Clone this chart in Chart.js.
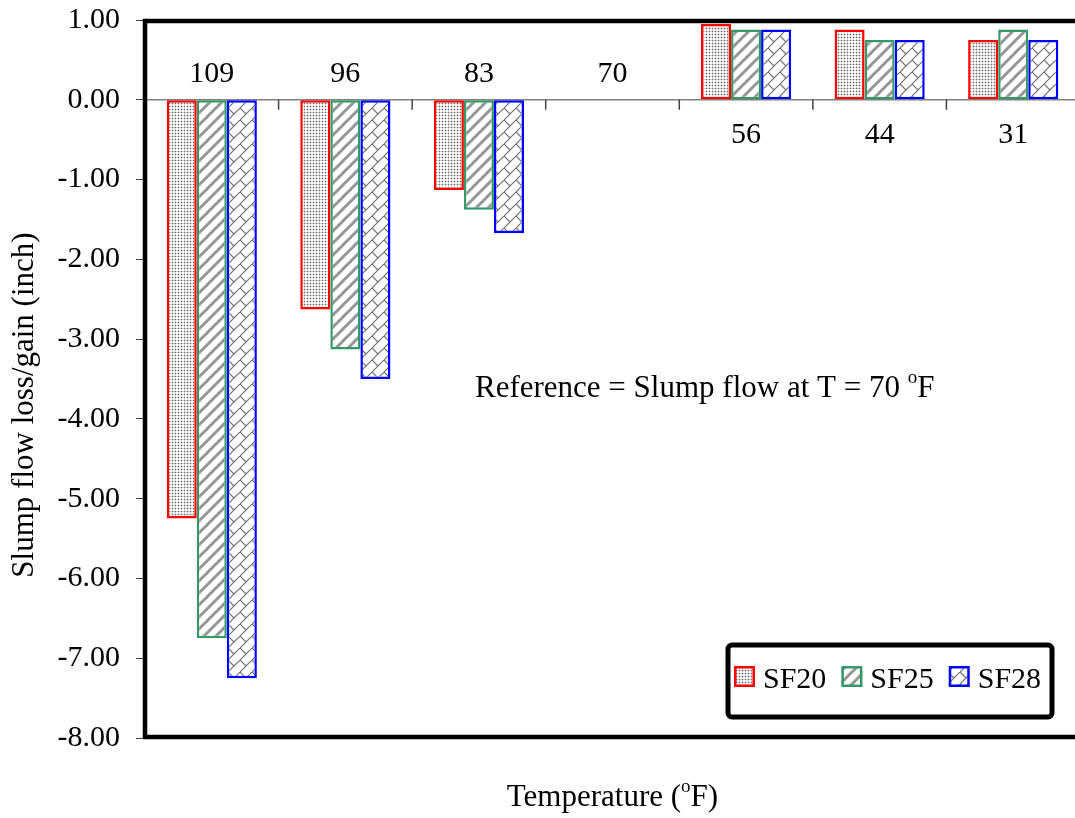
<!DOCTYPE html>
<html>
<head>
<meta charset="utf-8">
<script src="https://cdn.jsdelivr.net/npm/chart.js@4.4.0/dist/chart.umd.min.js"></script>
<style>
  html, body { margin: 0; padding: 0; background: #fff; overflow: hidden; }
  #wrap { width: 1080px; height: 818px; position: relative; }
</style>
</head>
<body>
<div id="wrap"><canvas id="slump"></canvas></div>
<script>
// temperatures (deg F) and slump flow change vs. the 70 F mix
const temps = ['109', '96', '83', '70', '56', '44', '31'];
const sf20 = [-5.25, -2.63, -1.13, 0, 0.95, 0.88, 0.75];
const sf25 = [-6.75, -3.13, -1.38, 0, 0.88, 0.75, 0.88];
const sf28 = [-7.25, -3.50, -1.67, 0, 0.88, 0.75, 0.75];
const yMin = -8, yMax = 1, yStep = 1;

const yTitle = 'Slump flow loss/gain (inch)';
const xTitle = [['Temperature (', false], ['o', true], ['F)', false]];
const note = [['Reference = Slump flow at T = 70 ', false], ['o', true], ['F', false]];

const serif = "'Liberation Serif', 'Times New Roman', serif";
const canvas = document.getElementById('slump');

// small repeating fills for the bars
function tile(size, draw) {
  const c = document.createElement('canvas');
  c.width = c.height = size;
  const g = c.getContext('2d');
  g.fillStyle = '#fff';
  g.fillRect(0, 0, size, size);
  draw(g, size);
  return canvas.getContext('2d').createPattern(c, 'repeat');
}

const dots = tile(3, g => {
  g.fillStyle = '#d2d2d2';
  g.fillRect(0, 1, 3, 1);
  g.fillRect(1, 0, 1, 3);
  g.fillStyle = '#666';
  g.fillRect(1, 1, 1, 1);
});

const stripes = tile(12, (g, s) => {
  g.strokeStyle = '#969696';
  g.lineWidth = 3;
  g.beginPath();
  g.moveTo(-2, s + 2); g.lineTo(s + 2, -2);
  g.moveTo(-2, 2); g.lineTo(2, -2);
  g.moveTo(s - 2, s + 2); g.lineTo(s + 2, s - 2);
  g.stroke();
});

const bricks = tile(12, (g, s) => {
  g.strokeStyle = '#707070';
  g.lineWidth = 1.2;
  g.beginPath();
  g.moveTo(-1, s + 1); g.lineTo(s + 1, -1);
  g.moveTo(-1, -1); g.lineTo(s / 2, s / 2);
  g.stroke();
});

// text runs with a raised small "o" for the degree sign
function runWidth(ctx, parts, size) {
  let w = 0;
  parts.forEach(([t, sup]) => {
    ctx.font = (sup ? Math.round(size * 0.62) : size) + 'px ' + serif;
    w += ctx.measureText(t).width;
  });
  return w;
}

function drawRun(ctx, parts, x, y, size) {
  ctx.textAlign = 'left';
  ctx.textBaseline = 'alphabetic';
  parts.forEach(([t, sup]) => {
    ctx.font = (sup ? Math.round(size * 0.62) : size) + 'px ' + serif;
    ctx.fillText(t, x, sup ? y - 14 : y);
    x += ctx.measureText(t).width;
  });
}

const decor = {
  id: 'decor',
  beforeDatasetsDraw(chart) {
    const { ctx, chartArea: a, scales: { x, y } } = chart;
    const y0 = y.getPixelForValue(0);
    ctx.save();
    ctx.strokeStyle = '#808080';
    ctx.lineWidth = 1.5;
    ctx.beginPath(); ctx.moveTo(a.left, y0); ctx.lineTo(a.right, y0); ctx.stroke();
    ctx.strokeStyle = '#404040';
    for (let i = 0; i < temps.length - 1; i++) {
      const bx = (x.getPixelForValue(i) + x.getPixelForValue(i + 1)) / 2;
      ctx.beginPath(); ctx.moveTo(bx, y0); ctx.lineTo(bx, y0 + 10); ctx.stroke();
    }
    ctx.restore();
  },
  afterDatasetsDraw(chart) {
    const { ctx, chartArea: a, scales: { x, y } } = chart;
    const y0 = y.getPixelForValue(0);
    ctx.save();

    // heavy plot frame (left, top, bottom)
    ctx.strokeStyle = '#000';
    ctx.lineWidth = 4.5;
    ctx.lineCap = 'square';
    ctx.beginPath();
    ctx.moveTo(a.right + 5, a.top + 1);
    ctx.lineTo(a.left, a.top + 1);
    ctx.lineTo(a.left, a.bottom - 1);
    ctx.lineTo(a.right + 5, a.bottom - 1);
    ctx.stroke();

    // category labels sit on the side of the axis away from the bars
    ctx.fillStyle = '#000';
    ctx.font = '30px ' + serif;
    ctx.textAlign = 'center';
    ctx.textBaseline = 'alphabetic';
    temps.forEach((t, i) => {
      const up = Math.max(sf20[i], sf25[i], sf28[i]) > 0;
      ctx.fillText(t, x.getPixelForValue(i), up ? y0 + 43 : y0 - 18);
    });

    // axis titles and note
    ctx.save();
    ctx.translate(25, 405);
    ctx.rotate(-Math.PI / 2);
    ctx.font = '31px ' + serif;
    ctx.textBaseline = 'middle';
    ctx.fillText(yTitle, 0, 0);
    ctx.restore();

    const cx = (a.left + a.right) / 2;
    drawRun(ctx, xTitle, cx - runWidth(ctx, xTitle, 31) / 2, 806, 31);
    drawRun(ctx, note, 475, 397, 31);

    // legend box
    const bx = a.right - 352, by = a.bottom - 93, bw = 324, bh = 72;
    ctx.fillStyle = '#fff';
    ctx.strokeStyle = '#000';
    ctx.lineWidth = 5;
    ctx.lineCap = 'butt';
    ctx.beginPath();
    ctx.roundRect(bx, by, bw, bh, 4);
    ctx.fill();
    ctx.stroke();

    let lx = bx + 6;
    const sy = by + 21;
    chart.data.datasets.forEach(ds => {
      ctx.fillStyle = ds.backgroundColor;
      ctx.fillRect(lx, sy, 21, 21);
      ctx.strokeStyle = ds.borderColor;
      ctx.lineWidth = 2.5;
      ctx.strokeRect(lx + 1.25, sy + 1.25, 18.5, 18.5);
      ctx.fillStyle = '#000';
      ctx.font = '30px ' + serif;
      ctx.textAlign = 'left';
      ctx.textBaseline = 'alphabetic';
      ctx.fillText(ds.label, lx + 29, sy + 22);
      lx += 29 + ctx.measureText(ds.label).width + 15;
    });
    ctx.restore();
  }
};

new Chart(canvas, {
  type: 'bar',
  data: {
    labels: temps,
    datasets: [
      { label: 'SF20', data: sf20, backgroundColor: dots, borderColor: '#ff0000' },
      { label: 'SF25', data: sf25, backgroundColor: stripes, borderColor: '#339966' },
      { label: 'SF28', data: sf28, backgroundColor: bricks, borderColor: '#0000ff' }
    ]
  },
  options: {
    responsive: true,
    maintainAspectRatio: false,
    animation: false,
    layout: { padding: { top: 20, bottom: 80, left: 0, right: 0 } },
    datasets: {
      bar: { borderWidth: 2.5, borderSkipped: false, categoryPercentage: 0.675, barPercentage: 1 }
    },
    plugins: { legend: { display: false }, tooltip: { enabled: false } },
    scales: {
      x: { display: false },
      y: {
        min: yMin,
        max: yMax,
        afterFit: s => {
          s.width = 145;
          s.paddingTop = 0;
          s.paddingBottom = 0;
        },
        border: { display: false },
        grid: { drawOnChartArea: false, drawTicks: true, tickLength: 9, color: '#404040' },
        ticks: {
          stepSize: yStep,
          padding: 16,
          color: '#000',
          font: { family: serif, size: 30 },
          callback: v => v.toFixed(2)
        }
      }
    }
  },
  plugins: [decor]
});
</script>
</body>
</html>
